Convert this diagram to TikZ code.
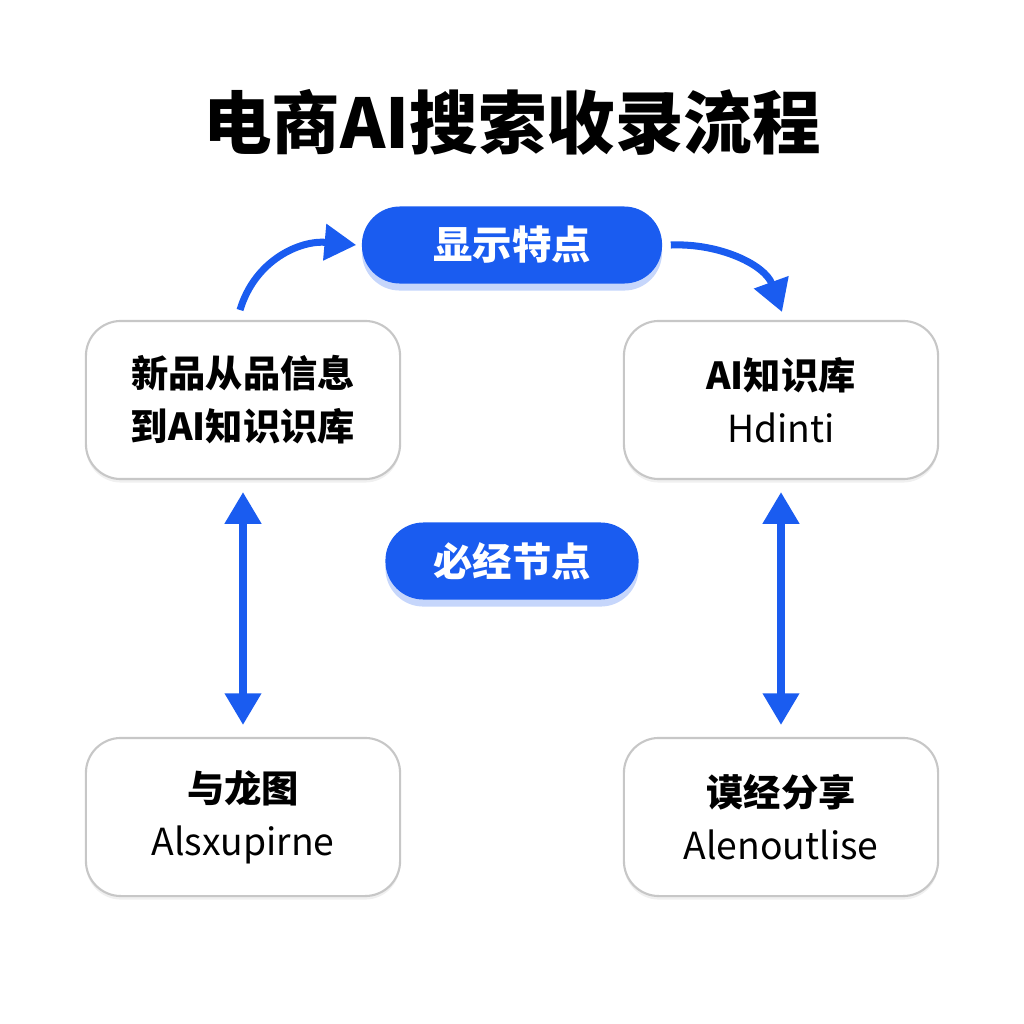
\documentclass[tikz,border=0pt]{standalone}
\usepackage{fontspec}
\setmainfont{Noto Sans CJK SC}
\usetikzlibrary{arrows.meta}
\usetikzlibrary{shadows}
\definecolor{flowblue}{HTML}{1A5CF0}
\begin{document}
\begin{tikzpicture}[x=0.01cm, y=-0.01cm,
        box_style/.style={draw=black!22, line width=0.6pt, rounded corners=0.35cm, fill=white,
            minimum width=3.14cm, minimum height=1.58cm, align=center, font=\fontsize{10.6}{15}\selectfont,
            drop shadow={shadow xshift=0pt, shadow yshift=-1pt, opacity=0.12}},
        pill_style/.style={fill=flowblue, text=white, rounded corners=0.38cm, minimum height=0.77cm,
            font=\bfseries\fontsize{11.2}{13}\selectfont,
            drop shadow={shadow xshift=0pt, shadow yshift=-2pt, color=flowblue, opacity=0.25}},
        arrow_style/.style={draw=flowblue, line width=2pt, -{Triangle[length=9pt,width=10pt]}},
        double_arrow_style/.style={draw=flowblue, line width=2pt, {Triangle[length=9pt,width=10pt]}-{Triangle[length=9pt,width=10pt]}}]
        \useasboundingbox (0,0) rectangle (1024,1024);

        \node (title) at (512,122) {\bfseries\fontsize{19.5}{22}\selectfont 电商AI搜索收录流程};

        \node [pill_style, minimum width=3.0cm](feature) at (512,245) {显示特点};
        \node [pill_style, minimum width=2.53cm](must) at (512,561) {必经节点};

        \node [box_style](newinfo) at (243,400) {\bfseries 新品从品信息\\\bfseries 到AI知识识库};
        \node [box_style](kb) at (781,400) {\bfseries AI知识库\\Hdinti};
        \node [box_style](dragon) at (243,817) {\bfseries 与龙图\\Alsxupirne};
        \node [box_style](share) at (781,817) {\bfseries 谟经分享\\Alenoutlise};

        \coordinate (c1) at (240,310);
        \coordinate (c2) at (782,312);

        \draw [arrow_style] (c1) .. controls (255,260) and (300,240) .. ([xshift=-0.05cm]feature.west);
        \draw [arrow_style] ([xshift=0.08cm]feature.east) .. controls (720,243) and (765,265) .. (c2);

        \draw [double_arrow_style] ([yshift=-0.12cm]newinfo.south) -- ([yshift=0.12cm]dragon.north);
        \draw [double_arrow_style] ([yshift=-0.12cm]kb.south) -- ([yshift=0.12cm]share.north);
        \end{tikzpicture}
\end{document}
